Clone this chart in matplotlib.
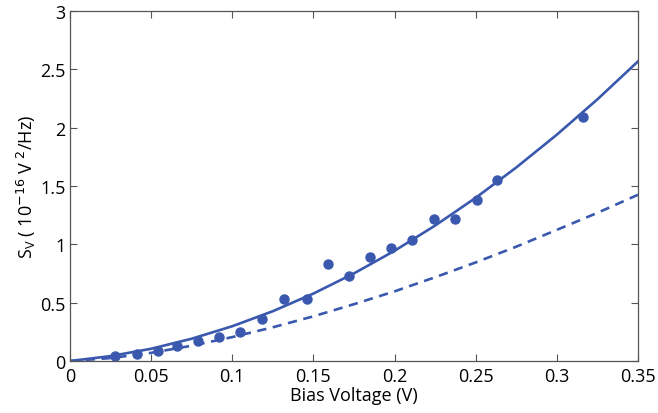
import matplotlib
matplotlib.use('Agg')
import matplotlib.pyplot as plt

# dados
bias = [0.028, 0.041, 0.054, 0.066, 0.079, 0.092, 0.105, 0.118, 0.132, 0.146,
        0.159, 0.172, 0.185, 0.198, 0.211, 0.224, 0.237, 0.251, 0.263, 0.316]
sv = [0.04, 0.06, 0.09, 0.13, 0.17, 0.21, 0.25, 0.36, 0.53, 0.53,
      0.83, 0.73, 0.89, 0.97, 1.04, 1.22, 1.22, 1.38, 1.55, 2.09]

x_fit = [0, 0.025, 0.05, 0.075, 0.1, 0.125, 0.15, 0.175, 0.2, 0.225,
         0.25, 0.275, 0.3, 0.325, 0.35]
sv_solid = [0, 0.042, 0.105, 0.191, 0.298, 0.427, 0.578, 0.751, 0.945, 1.161,
            1.399, 1.659, 1.940, 2.243, 2.568]
sv_dash = [0, 0.025, 0.07, 0.131, 0.205, 0.289, 0.383, 0.487, 0.597, 0.718,
           0.845, 0.980, 1.124, 1.270, 1.425]

cor = '#3a59ae'
plt.rcParams['font.family'] = ['Open Sans', 'DejaVu Sans']

fig = plt.figure(figsize=(6.58, 4.14), dpi=100)
ax = fig.add_axes([0.1064, 0.1256, 0.8632, 0.8454])

ax.plot(x_fit, sv_solid, color=cor, lw=1.9)
ax.plot(x_fit, sv_dash, color=cor, lw=1.9, ls=(0, (3.5, 2.5)))
ax.plot(bias, sv, 'o', color=cor, ms=6.5)

ax.set_xlim(0, 0.35)
ax.set_ylim(0, 3)
ax.set_xticks([0, 0.05, 0.1, 0.15, 0.2, 0.25, 0.3, 0.35])
ax.set_xticklabels(['0', '0.05', '0.1', '0.15', '0.2', '0.25', '0.3', '0.35'])
ax.set_yticks([0, 0.5, 1, 1.5, 2, 2.5, 3])
ax.set_yticklabels(['0', '0.5', '1', '1.5', '2', '2.5', '3'])
ax.tick_params(direction='in', top=True, right=True, labelsize=13,
               length=5, color='#555555')
ax.tick_params(axis='x', pad=4)
ax.tick_params(axis='y', pad=3)
for s in ax.spines.values():
    s.set_color('#555555')
    s.set_linewidth(0.9)

ax.set_xlabel('Bias Voltage (V)', fontsize=13, labelpad=1)
ax.set_ylabel(r'S$_\mathregular{V}$ ( 10$^{-16}$ V $^2$/Hz)', fontsize=13, labelpad=2)

fig.savefig('out.png', dpi=100)
